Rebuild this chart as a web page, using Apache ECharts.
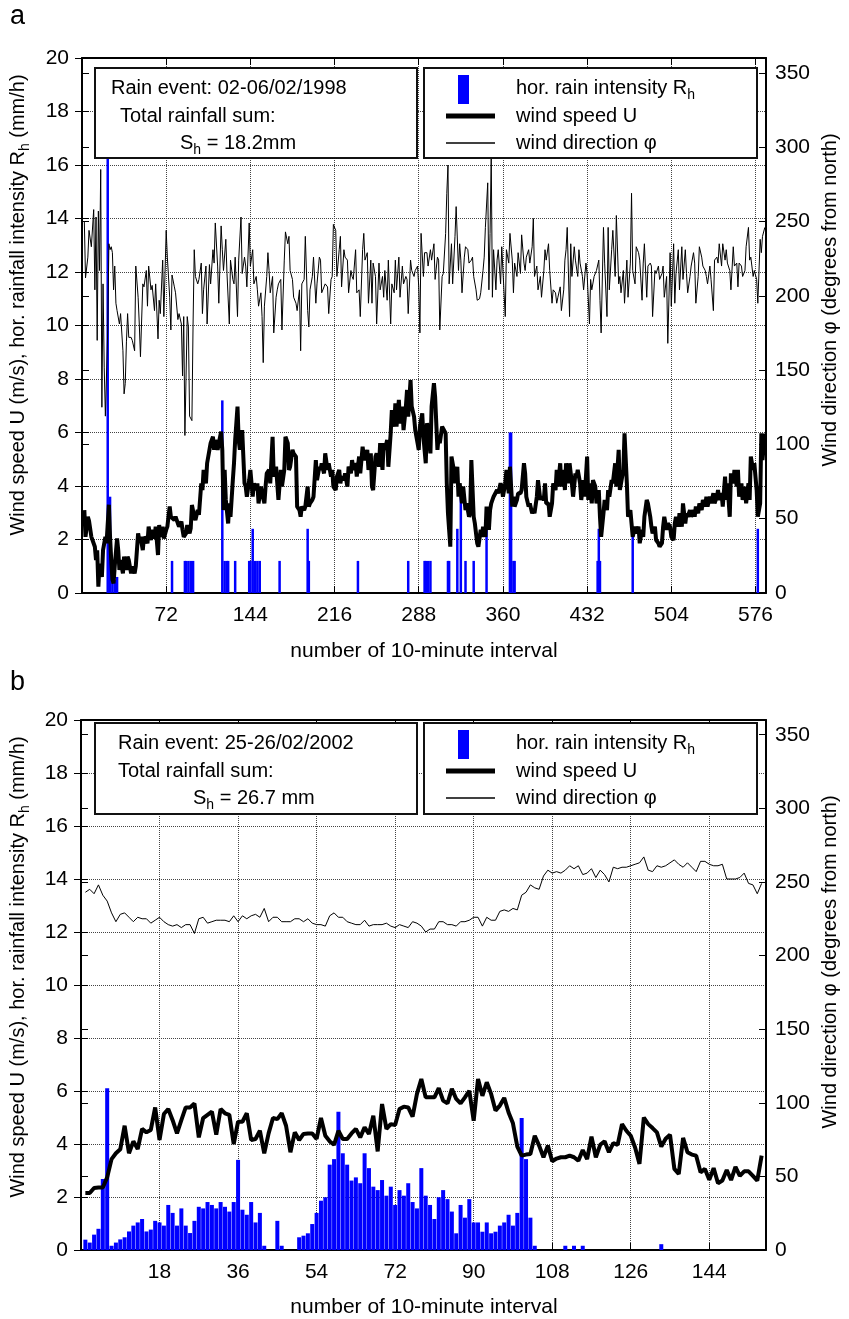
<!DOCTYPE html>
<html><head><meta charset="utf-8">
<script src="https://cdn.jsdelivr.net/npm/echarts@6/dist/echarts.min.js"></script>
<style>html,body{margin:0;padding:0;background:#fff}#c{width:849px;height:1319px}</style>
</head><body><div id="c"></div>
<script>
// ---------- Panel a: 02-06/02/1998 (x = number of 10-minute interval) ----------
const rainA = [[22,16.8],[24,3.6],[26,0.6],[28,0.5],[30,0.6],[77,1.2],[88,1.2],[89,1.2],[91,1.2],[93,1.2],[95,1.2],[120,7.2],[122,1.2],[124,1.2],[125,1.2],[131,1.2],[143,1.2],[144,1.2],[146,2.4],[148,1.2],[150,1.2],[152,1.2],[169,1.2],[193,2.4],[194,1.2],[236,1.2],[279,1.2],[293,1.2],[294,1.2],[296,1.2],[298,1.2],[313,1.2],[314,1.2],[321,2.4],[324,3.6],[328,1.2],[335,1.2],[346,2.4],[366,6.0],[367,6.0],[369,1.2],[370,1.2],[441,1.2],[442,2.4],[443,1.2],[471,2.4],[578,2.4]];

const speedA = [[2,3.1],[3,2.1],[5,2.85],[6,2.7],[8,2.1],[9,2.17],[11,1.73],[12,1.23],[13,1.6],[14,0.24],[15,1.1],[17,0.6],[18,1.6],[20,2.1],[21,1.86],[23,3.3],[24,2.1],[25,1.23],[26,0.5],[27,0.36],[28,1.0],[30,2.04],[31,1.6],[32,0.86],[33,1.23],[35,0.73],[36,1.36],[38,0.86],[39,1.36],[40,1.23],[42,0.73],[43,1.0],[45,0.73],[46,1.0],[48,2.23],[49,1.98],[50,2.1],[52,1.6],[53,2.1],[55,1.98],[56,1.86],[57,2.48],[59,1.98],[60,2.36],[62,2.04],[63,2.48],[65,1.42],[66,2.54],[67,2.1],[69,2.48],[70,2.04],[72,2.36],[73,2.48],[75,3.23],[76,2.85],[77,2.85],[79,2.73],[80,2.85],[82,2.6],[83,2.48],[85,2.67],[86,2.36],[87,2.1],[89,2.23],[90,2.54],[92,2.23],[93,2.42],[94,3.29],[96,2.85],[97,2.73],[99,3.1],[100,2.92],[102,4.1],[103,3.85],[104,4.6],[106,4.1],[107,4.85],[109,5.35],[110,5.6],[112,5.84],[113,5.35],[114,5.72],[116,5.35],[117,5.6],[119,6.03],[120,5.35],[121,3.1],[122,4.6],[123,3.48],[125,2.6],[126,3.35],[127,2.85],[129,4.22],[130,4.85],[131,5.72],[133,6.97],[134,5.72],[135,5.35],[136,5.84],[137,6.09],[139,4.1],[140,3.98],[141,3.6],[143,4.22],[144,4.6],[146,3.6],[147,4.1],
[149,3.85],[150,4.1],[151,3.35],[153,3.98],[154,3.73],[156,3.35],[157,3.98],[158,4.47],[160,4.6],[161,4.1],[163,5.84],[164,4.35],[166,4.72],[167,4.1],[168,3.48],[170,4.6],[171,3.98],[173,4.6],[174,5.84],[176,5.6],[177,4.6],[178,4.72],[180,5.35],[181,5.22],[183,5.1],[184,3.23],[186,3.1],[187,2.85],[188,3.23],[190,3.1],[191,3.23],[193,3.98],[194,3.23],[195,3.35],[197,3.48],[198,3.6],[200,4.97],[201,4.22],[203,4.72],[204,4.6],[205,4.85],[207,4.47],[208,5.22],[210,4.6],[211,4.85],[213,4.35],[214,4.6],[215,3.98],[217,3.85],[218,4.35],[220,4.6],[221,4.1],[222,4.35],[224,4.22],[225,4.47],[227,3.98],[228,4.72],[230,4.47],[231,4.97],[232,4.6],[234,4.85],[235,4.35],[237,5.1],[238,4.47],[240,5.47],[241,5.1],[242,4.97],[244,5.35],[245,4.6],[247,5.22],[248,3.98],[249,3.85],[251,5.1],[252,5.22],[254,4.72],[255,5.6],[257,4.6],[258,5.6],[259,5.35],[261,5.72],[262,4.72],[264,5.97],[265,6.84],[267,6.22],[268,7.09],[269,6.22],[271,7.22],[272,6.34],[274,6.97],[275,6.09],[277,6.97],[278,7.59],[279,6.59],[281,7.96],[282,6.97],[284,6.59],[285,6.09],[287,5.6],[288,5.35],[289,6.22],[291,6.72],[292,5.84],[294,4.85],
[295,6.34],[296,6.22],[298,5.22],[299,6.97],[301,7.84],[302,7.34],[304,5.35],[305,5.84],[306,5.6],[308,6.22],[309,6.22],[311,5.97],[312,4.1],[313,2.98],[315,1.73],[316,5.1],[318,4.6],[319,4.1],[321,4.72],[322,3.6],[323,4.1],[325,3.35],[326,3.98],[328,3.1],[329,3.35],[331,2.85],[332,2.98],[333,4.97],[335,2.85],[336,2.6],[338,1.86],[339,1.73],[341,2.36],[342,2.1],[343,2.48],[345,2.1],[346,3.23],[348,2.36],[349,3.1],[350,3.35],[352,3.6],[353,3.6],[355,3.85],[356,3.73],[358,4.1],[359,3.98],[360,3.6],[362,4.1],[363,4.6],[365,3.73],[366,4.72],[368,3.23],[369,3.6],[370,3.23],[372,3.48],[373,3.73],[375,3.73],[376,3.85],[378,4.85],[379,4.47],[380,3.6],[382,3.23],[383,3.35],[385,2.98],[386,3.1],[387,2.98],[389,3.6],[390,4.22],[392,3.48],[393,3.6],[395,3.48],[396,4.1],[397,3.35],[399,3.35],[400,2.85],[402,3.35],[403,4.1],[405,3.85],[406,4.6],[407,3.98],[409,4.85],[410,3.98],[412,4.6],[413,3.85],[414,4.85],[416,4.1],[417,4.85],[419,4.1],[420,3.6],[422,4.47],[423,4.35],[424,4.6],[426,4.1],[427,3.48],[429,4.22],[430,3.6],[432,5.1],[433,3.48],[434,4.1],[436,3.35],[437,4.22],[439,3.98],
[440,3.35],[442,3.85],[443,2.85],[444,2.1],[446,2.98],[447,3.48],[449,3.1],[450,3.85],[451,3.6],[453,4.22],[454,4.1],[456,4.85],[457,3.98],[459,5.35],[460,3.85],[461,4.1],[463,4.6],[464,5.97],[466,4.1],[467,2.85],[469,3.1],[470,2.6],[471,2.1],[473,2.48],[474,2.23],[476,2.48],[477,1.86],[479,2.36],[480,2.1],[481,2.85],[483,3.48],[484,3.35],[486,2.85],[487,2.48],[488,2.23],[490,2.48],[491,1.98],[493,1.86],[494,1.73],[496,1.86],[497,2.48],[498,2.85],[500,2.36],[501,2.6],[503,2.48],[504,2.1],[506,1.98],[507,2.6],[508,2.85],[510,2.48],[511,2.98],[513,2.48],[514,3.35],[516,2.6],[517,2.98],[518,2.85],[520,3.1],[521,2.85],[523,3.1],[524,2.85],[525,3.23],[527,2.98],[528,3.35],[530,3.1],[531,3.48],[533,3.23],[534,3.6],[535,3.23],[537,3.6],[538,3.35],[540,3.73],[541,3.35],[543,3.6],[544,3.85],[545,3.48],[547,3.73],[548,3.23],[550,4.35],[551,3.48],[552,4.1],[554,2.85],[555,4.47],[557,4.1],[558,4.6],[560,3.98],[561,4.6],[562,3.6],[564,4.1],[565,3.48],[567,3.98],[568,3.35],[570,4.1],[571,3.48],[572,5.1],[574,4.6],[575,4.85],[577,3.85],[578,2.85],[580,3.35],[581,5.97],[582,4.97],[584,5.97]];

const dirA = [[2,250],[3,212],[5,226],[6,244],[8,233],[10,258],[11,204],[12,253],[13,170],[14,257],[15,217],[16,285],[17,125],[18,208],[19,152],[20,119],[22,177],[23,235],[24,231],[25,233],[26,229],[27,204],[28,220],[29,195],[30,190],[32,181],[33,188],[35,163],[36,134],[37,141],[38,169],[39,188],[40,172],[42,172],[43,170],[45,163],[46,220],[48,199],[49,181],[50,159],[52,208],[53,206],[55,217],[56,193],[57,220],[59,204],[60,207],[62,190],[63,208],[65,171],[66,197],[67,188],[69,224],[70,186],[72,244],[73,226],[75,199],[76,177],[77,214],[79,206],[80,202],[82,184],[83,188],[85,181],[86,146],[87,186],[88,106],[90,186],[91,179],[92,119],[94,116],[95,181],[96,231],[97,213],[99,208],[100,211],[102,222],[103,188],[104,204],[106,220],[107,181],[109,221],[110,208],[112,231],[113,222],[114,249],[116,220],[117,195],[119,247],[120,231],[121,217],[123,238],[124,215],[126,181],[127,224],[129,211],[130,208],[131,226],[133,186],[134,224],[136,253],[137,215],[139,226],[140,220],[141,206],[143,249],[144,220],[146,231],[147,208],
[149,213],[150,204],[151,193],[153,202],[154,186],[155,155],[156,193],[158,213],[159,229],[160,217],[161,202],[163,213],[164,175],[166,199],[167,204],[168,208],[170,211],[171,177],[173,224],[174,243],[176,235],[177,240],[178,217],[180,211],[181,199],[183,195],[184,190],[186,204],[187,163],[188,208],[190,211],[191,240],[193,190],[194,179],[195,204],[197,213],[198,226],[200,195],[201,208],[203,226],[204,224],[205,202],[207,206],[208,208],[210,206],[211,188],[213,211],[214,213],[215,248],[217,244],[218,213],[220,231],[221,240],[222,206],[224,231],[225,226],[227,224],[228,202],[230,217],[231,213],[232,211],[234,231],[235,202],[237,204],[238,186],[240,231],[241,242],[242,224],[244,229],[245,195],[247,224],[248,195],[249,222],[251,213],[252,181],[254,222],[255,204],[257,213],[258,199],[259,217],[261,197],[262,224],[264,181],[265,208],[267,202],[268,224],[269,204],[271,226],[272,199],[274,220],[275,208],[277,213],[278,211],[279,188],[281,224],[282,217],[284,213],[285,217],[287,220],[288,206],[289,175],[290,242],[292,213],[293,229],
[295,229],[296,220],[298,231],[299,224],[301,235],[302,211],[304,226],[305,224],[306,177],[308,213],[309,215],[311,242],[312,269],[313,288],[314,208],[316,235],[317,208],[319,240],[320,260],[322,217],[323,235],[324,224],[325,202],[327,226],[328,233],[330,231],[331,222],[333,224],[334,226],[335,213],[337,204],[338,197],[340,198],[341,202],[343,217],[344,226],[345,246],[347,276],[348,204],[349,242],[350,294],[351,199],[352,231],[354,204],[355,224],[356,231],[358,208],[359,233],[360,233],[362,186],[363,231],[365,222],[366,242],[368,224],[369,202],[370,222],[372,213],[373,229],[375,215],[376,241],[378,222],[379,217],[380,226],[382,231],[383,222],[385,233],[386,252],[387,213],[389,220],[390,204],[392,213],[393,199],[395,217],[396,231],[397,224],[399,235],[400,217],[402,195],[403,204],[405,202],[406,195],[407,199],[409,206],[410,190],[412,204],[413,224],[414,231],[415,246],[417,186],[418,235],[419,213],[421,233],[422,224],[424,213],[425,231],[426,222],[428,213],[429,204],[431,222],[432,215],[434,181],[435,211],[436,204],[438,213],
[440,217],[442,224],[443,197],[444,175],[446,246],[447,222],[449,186],[450,246],[451,204],[453,231],[454,244],[456,213],[457,254],[459,208],[460,213],[461,202],[463,217],[464,195],[466,224],[467,199],[469,222],[470,269],[471,217],[473,208],[474,233],[476,229],[477,224],[479,197],[480,222],[481,235],[483,199],[484,220],[486,222],[487,220],[488,186],[490,217],[491,215],[493,220],[494,211],[496,215],[497,220],[498,199],[500,213],[501,168],[503,229],[504,193],[506,235],[507,195],[508,215],[510,231],[511,204],[513,233],[514,211],[516,231],[517,215],[518,202],[520,213],[521,220],[523,229],[524,222],[525,195],[527,213],[528,233],[530,226],[531,220],[533,217],[534,213],[535,208],[537,220],[538,211],[540,190],[541,224],[543,226],[544,222],[545,235],[547,220],[548,235],[550,224],[551,231],[552,222],[554,217],[555,204],[557,233],[558,220],[560,222],[561,206],[562,222],[564,220],[565,213],[567,217],[568,233],[570,246],[571,224],[572,226],[574,213],[575,217],[577,211],[578,195],[580,238],[581,229],[582,240],[584,246]];

// ---------- Panel b: 25-26/02/2002 (values for intervals 1, 2, 3, ...) ----------
const rainB = [0.39,0.28,0.58,0.8,2.68,6.1,0.16,0.28,0.4,0.48, 0.7,0.92,1.04,1.17,0.7,0.77,1.1,1.04,0.92,1.7, 1.4,0.92,1.57,0.92,0.64,1.1,1.63,1.57,1.81,1.7, 1.57,1.81,1.63,1.45,1.81,3.4,1.52,1.33,1.81,1.04, 1.4,0.16,0,0,1.1,0.16,0,0,0,0.48, 0.54,0.63,0.98,1.4,1.86,1.99,3.22,3.43,5.22,3.65, 3.22,2.62,2.74,2.52,3.65,3.09,2.39,2.26,2.64,2.05, 2.39,1.7,2.26,2.05,2.52,1.81,1.57,3.09,2.05,1.7, 1.17,1.99,2.26,1.92,1.45,0.63,1.7,1.22,1.92,1.04, 1.04,0.69,1.04,0.63,0.69,0.92,1.04,1.33,0.92,1.4, 4.98,3.43,1.22,0.16,0,0,0,0,0,0, 0.16,0,0.16,0,0.16,0,0,0,0,0, 0,0,0,0,0,0,0,0,0,0, 0,0,0.22];

const speedB = [2.15,2.15,2.34,2.36,2.36,2.74,3.43,3.65,3.8,4.69, 3.65,4.1,3.81,4.57,4.44,4.53,5.38,4.15,5.13,5.32, 4.9,4.4,4.9,5.38,5.38,5.53,4.25,4.98,5.1,5.22, 4.35,5.32,5.16,5.1,4.0,4.84,4.84,5.16,4.15,4.19, 4.5,3.65,4.4,4.98,4.94,5.16,4.69,3.69,4.44,4.15, 4.38,4.4,4.4,4.19,4.98,4.31,4.1,3.97,4.5,4.19, 4.19,4.4,4.57,4.25,4.63,4.38,5.07,3.72,5.51,4.57, 4.75,4.72,5.32,5.41,5.38,5.03,5.89,6.45,5.76,5.76, 5.76,6.11,5.64,5.53,6.08,5.7,5.53,5.76,6.01,4.88, 6.45,5.82,6.33,5.89,5.26,5.45,5.74,5.19,4.78,3.9, 3.56,3.6,3.62,4.31,3.94,3.5,3.94,3.35,3.45,3.5, 3.5,3.56,3.5,3.37,3.77,3.43,4.28,3.5,3.97,4.1, 3.69,4.03,3.97,4.75,4.5,4.31,3.87,3.25,5.0,4.75, 4.6,4.44,3.9,4.2,4.35,3.06,2.87,4.23,3.69,3.6, 3.56,2.93,3.06,2.65,3.09,2.52,2.62,3.02,2.64,3.14, 2.8,2.97,2.97,2.8,2.62,3.56];

const dirB = [243,245,242,248,241,237,229,223,228,229, 226,223,226,225,225,222,224,226,223,221, 220,221,219,221,221,215,225,226,222,223, 224,224,224,223,227,223,227,225,227,228, 226,232,223,226,226,223,223,223,225,225, 223,225,222,221,221,220,227,229,226,226, 223,222,221,221,224,220,221,221,221,222, 220,219,221,220,219,223,222,220,216,218, 218,223,223,221,221,220,223,223,224,226, 226,220,226,224,224,230,231,230,232,231, 241,243,248,246,245,254,258,256,257,256, 258,261,259,261,255,256,259,253,258,255, 250,260,259,260,260,261,262,263,267,258, 257,261,260,261,263,265,262,260,263,260, 257,264,264,262,261,261,262,252,252,252, 253,256,249,248,242,249];

// axis settings (ticks)
const xMaxA = 585, xStepA = 72;
const xMaxB = 157, xStepB = 18;
const yLeftMax = 20, yLeftStep = 2;
const yRightMax = 360, yRightStep = 50;

const FONT = '"Liberation Sans", Arial, Helvetica, sans-serif';
const chart = echarts.init(document.getElementById('c'), null, {renderer:'canvas'});

const grids = [
  {left:82, top:58, width:684, height:535},
  {left:81, top:720, width:685, height:530}
];

function xAxes(g, max, step){
  const base = {gridIndex:g, type:'value', min:0, max:max, interval:step};
  return [
    Object.assign({}, base, {position:'bottom',
      axisLine:{onZero:false, lineStyle:{color:'#000', width:2}},
      axisTick:{inside:true, length:7, lineStyle:{color:'#000', width:1}},
      axisLabel:{showMinLabel:false, showMaxLabel:false, color:'#000', fontSize:21, fontFamily:FONT, margin:12},
      splitLine:{show:true, lineStyle:{type:'dotted', color:'#444', width:1}}}),
    Object.assign({}, base, {position:'top',
      axisLine:{onZero:false, lineStyle:{color:'#000', width:2}},
      axisTick:{inside:true, length:7, lineStyle:{color:'#000', width:1}},
      axisLabel:{show:false}, splitLine:{show:false}})
  ];
}
function yAxes(g){
  return [
    {gridIndex:g, type:'value', min:0, max:yLeftMax, interval:yLeftStep, position:'left',
      axisLine:{show:true, onZero:false, lineStyle:{color:'#000', width:2}},
      axisTick:{show:true, inside:true, length:7, lineStyle:{color:'#000'}},
      axisLabel:{color:'#000', fontSize:21, fontFamily:FONT, margin:13},
      splitLine:{show:true, lineStyle:{type:'dotted', color:'#444', width:1}}},
    {gridIndex:g, type:'value', min:0, max:yRightMax, interval:yRightStep, position:'right',
      axisLine:{show:true, onZero:false, lineStyle:{color:'#000', width:2}},
      axisTick:{show:true, inside:true, length:7, lineStyle:{color:'#000'}},
      axisLabel:{color:'#000', fontSize:21, fontFamily:FONT, margin:9, showMaxLabel:false},
      splitLine:{show:false}},
    {gridIndex:g, type:'value', min:0, max:yLeftMax, interval:yLeftStep, position:'right',
      axisLine:{show:false}, axisTick:{show:true, inside:true, length:7, lineStyle:{color:'#000'}},
      axisLabel:{show:false}, splitLine:{show:false}},
    {gridIndex:g, type:'value', min:0, max:yRightMax, interval:yRightStep, position:'left',
      axisLine:{show:false}, axisTick:{show:true, inside:true, length:7, lineStyle:{color:'#000'}},
      axisLabel:{show:false}, splitLine:{show:false}}
  ];
}

const idx = arr => arr.map((v,k) => [k+1, v]);

function txt(x, y, text, o){
  o = o || {};
  return {type:'text', x:x, y:y, rotation:o.rot||0, z:200,
    style:{text:text, fill:'#000', fontSize:o.size||20, fontFamily:FONT,
      align:o.align||'left', verticalAlign:'middle', textAlign:o.align||'left', textVerticalAlign:'middle',
      lineHeight:28,
      rich:{s:{fontSize:(o.size||20)*0.7, fontFamily:FONT, verticalAlign:'bottom', lineHeight:14, fill:'#000'}}}};
}
function box(x, y, w, h){
  return {type:'rect', z:150, shape:{x:x, y:y, width:w, height:h},
    style:{fill:'#fff', stroke:'#111', lineWidth:2}};
}
function hline(x1, x2, y, w){
  return {type:'line', z:200, shape:{x1:x1, y1:y, x2:x2, y2:y}, style:{stroke:'#000', lineWidth:w}};
}
function legendBoxes(top, h, dates, sum, rowY, tx){
  return [
    box(95, top, 322, h), box(424, top, 333, h),
    txt(tx[0], rowY[0], 'Rain event: ' + dates),
    txt(tx[1], rowY[1], 'Total rainfall sum:'),
    txt(tx[2], rowY[2], 'S{s|h} = ' + sum),
    {type:'rect', z:200, shape:{x:458, y:rowY[0]-13, width:11, height:29}, style:{fill:'#0000ff'}},
    hline(446, 495, rowY[1], 5),
    hline(446, 495, rowY[2], 1.5),
    txt(516, rowY[0], 'hor. rain intensity R{s|h}'),
    txt(516, rowY[1], 'wind speed U'),
    txt(516, rowY[2], 'wind direction \u03c6')
  ];
}

const leftTitle = 'Wind speed U (m/s), hor. rainfall intensity R{s|h} (mm/h)';
const rightTitle = 'Wind direction \u03c6 (degrees from north)';

const option = {
  animation:false,
  backgroundColor:'#fff',
  textStyle:{fontFamily:FONT},
  grid: grids.map(g => Object.assign({containLabel:false, outerBoundsMode:'none'}, g)),
  xAxis: [...xAxes(0, xMaxA, xStepA), ...xAxes(1, xMaxB, xStepB)],
  yAxis: [...yAxes(0), ...yAxes(1)],
  series: [
    {type:'bar', xAxisIndex:0, yAxisIndex:0, data:rainA, barWidth:2.5, itemStyle:{color:'#0000ff'}, z:2},
    {type:'line', xAxisIndex:0, yAxisIndex:0, data:speedA, symbol:'none', lineStyle:{color:'#000', width:4}, z:3},
    {type:'line', xAxisIndex:0, yAxisIndex:1, data:dirA, symbol:'none', lineStyle:{color:'#000', width:1}, z:3},
    {type:'bar', xAxisIndex:2, yAxisIndex:4, data:idx(rainB), barWidth:4, itemStyle:{color:'#0000ff'}, z:2},
    {type:'line', xAxisIndex:2, yAxisIndex:4, data:idx(speedB), symbol:'none', lineStyle:{color:'#000', width:4}, z:3},
    {type:'line', xAxisIndex:2, yAxisIndex:5, data:idx(dirB), symbol:'none', lineStyle:{color:'#000', width:1}, z:3}
  ],
  graphic: [
    txt(10, 17, 'a', {size:27}),
    txt(10, 683, 'b', {size:27}),
    txt(18, 305, leftTitle, {rot:Math.PI/2, align:'center'}),
    txt(830, 300, rightTitle, {rot:Math.PI/2, align:'center'}),
    txt(424, 651, 'number of 10-minute interval', {align:'center', size:21}),
    txt(18, 967, leftTitle, {rot:Math.PI/2, align:'center'}),
    txt(830, 962, rightTitle, {rot:Math.PI/2, align:'center'}),
    txt(424, 1307, 'number of 10-minute interval', {align:'center', size:21}),
    ...legendBoxes(68, 90, '02-06/02/1998', '18.2mm', [88,116,143], [111,120,180]),
    ...legendBoxes(723, 91, '25-26/02/2002', '26.7 mm', [743,771,798], [118,118,193])
  ]
};
chart.setOption(option);
</script></body></html>
